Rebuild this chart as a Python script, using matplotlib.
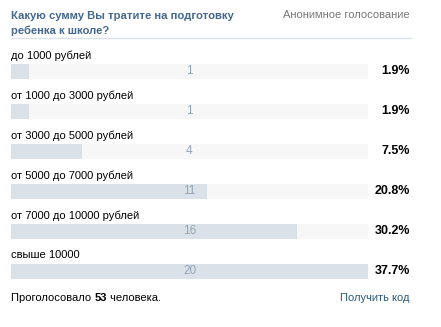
import matplotlib.pyplot as plt
from matplotlib.transforms import blended_transform_factory

plt.rcParams['font.family'] = ['Liberation Sans', 'DejaVu Sans']

title = "Какую сумму Вы тратите на подготовку\nребенка к школе?"
options = ['до 1000 рублей', 'от 1000 до 3000 рублей', 'от 3000 до 5000 рублей',
           'от 5000 до 7000 рублей', 'от 7000 до 10000 рублей', 'свыше 10000']
votes = [1, 1, 4, 11, 16, 20]
percents = [1.9, 1.9, 7.5, 20.8, 30.2, 37.7]
total = 53

W, H = 441, 327
fig = plt.figure(figsize=(W / 100, H / 100), dpi=100)
fig.patch.set_facecolor('white')

def fx(x):
    return x / W

def fy(y):
    return 1 - y / H

# bar area: x 11..368 px, rows 40 px apart, first bar centred at y=71.5
top, bottom = 51.5, 51.5 + 40 * len(options)
ax = fig.add_axes([fx(11), fy(bottom), fx(368) - fx(11), (bottom - top) / H])
ax.set_xlim(0, max(votes))
ax.set_ylim(len(options) - 0.5, -0.5)
ax.axis('off')

rows = list(range(len(options)))
ax.barh(rows, [max(votes)] * len(rows), height=0.375, color='#f7f7f7', linewidth=0)
ax.barh(rows, votes, height=0.375, color='#dae1e8', linewidth=0)

tr = blended_transform_factory(fig.transFigure, ax.transData)
for i, (lab, v, p) in enumerate(zip(options, votes, percents)):
    ax.text(0, i - 0.4, lab, fontsize=8, color='#000000', ha='left', va='center')
    ax.text(max(votes) / 2, i, str(v), fontsize=8.5, color='#93a5b8', ha='center', va='center')
    ax.text(fx(410), i, f'{p}%', fontsize=9, fontweight='bold', color='#000000',
            ha='right', va='center', transform=tr)

# header
fig.text(fx(11), fy(23.5), title, fontsize=8.1, fontweight='bold', color='#45688e',
         ha='left', va='center', linespacing=1.55)
fig.text(fx(410), fy(15), 'Анонимное голосование', fontsize=8, color='#777777',
         ha='right', va='center')
fig.add_artist(plt.Line2D([fx(11), fx(411)], [fy(38), fy(38)], color='#dae1e8', linewidth=1))

# footer
fig.canvas.draw()
r = fig.canvas.get_renderer()
t1 = fig.text(fx(11), fy(298), 'Проголосовало ', fontsize=8, color='#000000', ha='left', va='center')
x = t1.get_window_extent(r).x1
t2 = fig.text(x / W, fy(298), str(total), fontsize=8, fontweight='bold', color='#000000',
              ha='left', va='center')
x = t2.get_window_extent(r).x1
fig.text(x / W, fy(298), ' человека.', fontsize=8, color='#000000', ha='left', va='center')
fig.text(fx(410), fy(298), 'Получить код', fontsize=8, color='#2b587a', ha='right', va='center')

plt.savefig('out.png', dpi=100)
